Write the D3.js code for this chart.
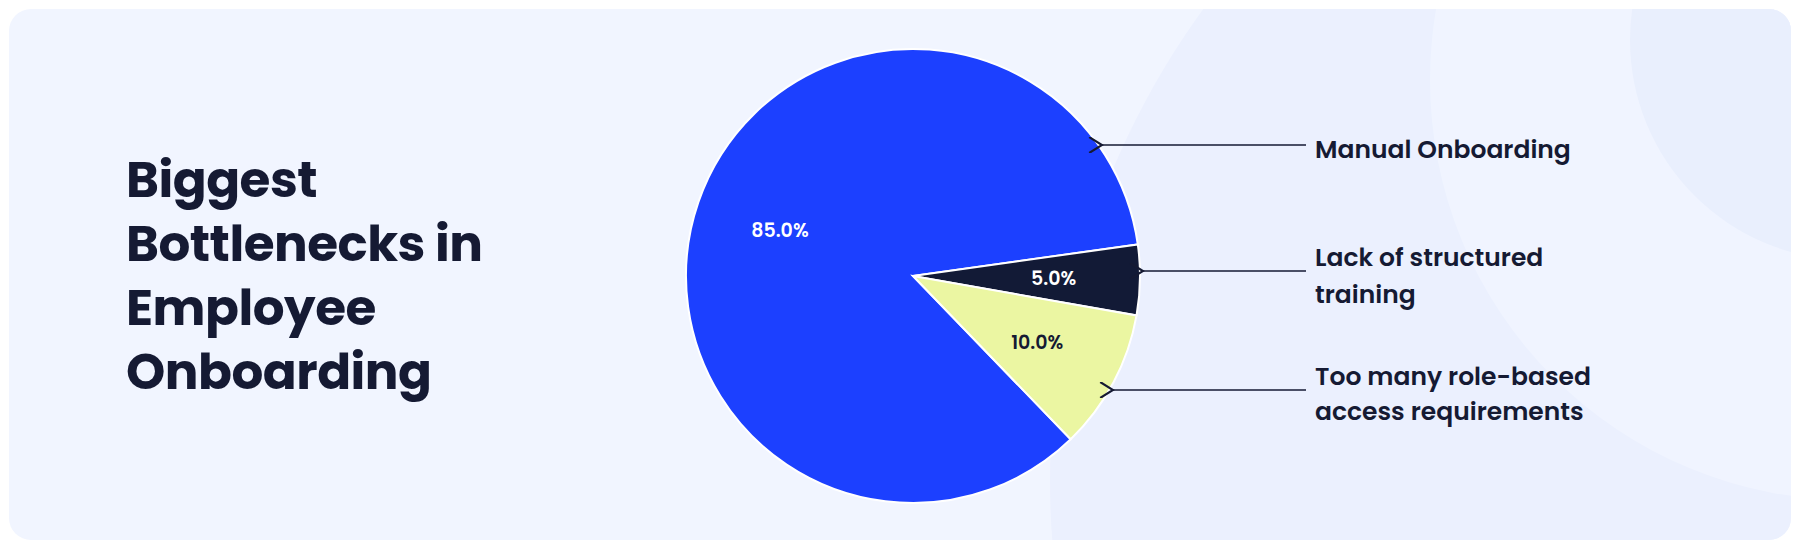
<!DOCTYPE html>
<html><head><meta charset="utf-8">
<script src="https://cdn.jsdelivr.net/npm/d3@7"></script>
<style>body{margin:0;background:#fff}svg{display:block}</style>
</head><body>
<svg id="c" width="1800" height="552"></svg>
<script>
const categories = ["Manual Onboarding", "Lack of structured training", "Too many role-based access requirements"];
const values = [85, 5, 10];
const labelLines = [["Manual Onboarding"], ["Lack of structured", "training"], ["Too many role-based", "access requirements"]];
const colors = ["#1c40ff", "#121a36", "#ebf6a2"];
const titleLines = ["Biggest", "Bottlenecks in", "Employee", "Onboarding"];

const svg = d3.select("#c");
const W = 1800, H = 552;
const defs = svg.append("defs");
defs.append("clipPath").attr("id","card").append("rect")
  .attr("x",9).attr("y",9).attr("width",1782).attr("height",531).attr("rx",22);
svg.append("rect").attr("x",9).attr("y",9).attr("width",1782).attr("height",531).attr("rx",22).attr("fill","#f1f5ff");
const deco = svg.append("g").attr("clip-path","url(#card)");
deco.append("circle").attr("cx",1850).attr("cy",480).attr("r",800).attr("fill","#ebf0fe");
deco.append("circle").attr("cx",1850).attr("cy",80).attr("r",420).attr("fill","#f0f4ff");
deco.append("circle").attr("cx",1850).attr("cy",40).attr("r",220).attr("fill","#e9effd");

const font = "Poppins, Inter, 'Open Sans', sans-serif";
const tg = svg.append("g");
titleLines.forEach((t,i)=>{
  tg.append("text").attr("x",126).attr("y",197+i*64).text(t)
    .attr("font-family",font).attr("font-weight",700).attr("font-size",50)
    .attr("fill","#151a33").attr("letter-spacing","-0.5");
});

const cx = 913, cy = 276, R = 227;
const deg = Math.PI/180;
const pie = d3.pie().sort(null).value(d=>d).startAngle(136*deg).endAngle(496*deg);
const arcs = pie(values);
const arc = d3.arc().innerRadius(0).outerRadius(R);
const labelArc = d3.arc().innerRadius(R*0.62).outerRadius(R*0.62);
const pg = svg.append("g").attr("transform",`translate(${cx},${cy})`);
pg.selectAll("path").data(arcs).join("path").attr("d",arc)
  .attr("fill",(d,i)=>colors[i]).attr("stroke","#fff").attr("stroke-width",2);
const fmt = d3.format(".1f");
pg.selectAll("text.p").data(arcs).join("text").attr("class","p")
  .attr("transform",d=>`translate(${labelArc.centroid(d)})`)
  .attr("text-anchor","middle").attr("dy","0.35em")
  .attr("font-family",font).attr("font-weight",600).attr("font-size",19)
  .attr("fill",(d,i)=>i===2?"#151a33":"#fff")
  .text(d=>fmt(d.data)+"%");

defs.append("marker").attr("id","arr").attr("viewBox","0 0 10 10").attr("refX",1).attr("refY",5)
  .attr("markerWidth",10).attr("markerHeight",10).attr("orient","auto-start-reverse")
  .append("path").attr("d","M9,0 L1,5 L9,10").attr("fill","none").attr("stroke","#151a33").attr("stroke-width",1.3);

const lineX1 = 1306, textX = 1315;
const arrowY = [145, 271, 390];
const arrowX0 = [1102, 1143, 1113];
const textY = [[158],[266,303],[385,420]];
labelLines.forEach((lines,i)=>{
  svg.append("line").attr("x1",lineX1).attr("x2",arrowX0[i]).attr("y1",arrowY[i]).attr("y2",arrowY[i])
    .attr("stroke","#151a33").attr("stroke-width",1.6).attr("marker-end","url(#arr)");
  lines.forEach((l,j)=>{
    svg.append("text").attr("x",textX).attr("y",textY[i][j]).text(l)
      .attr("font-family",font).attr("font-weight",600).attr("font-size",25).attr("fill","#151a33");
  });
});
</script>
</body></html>
